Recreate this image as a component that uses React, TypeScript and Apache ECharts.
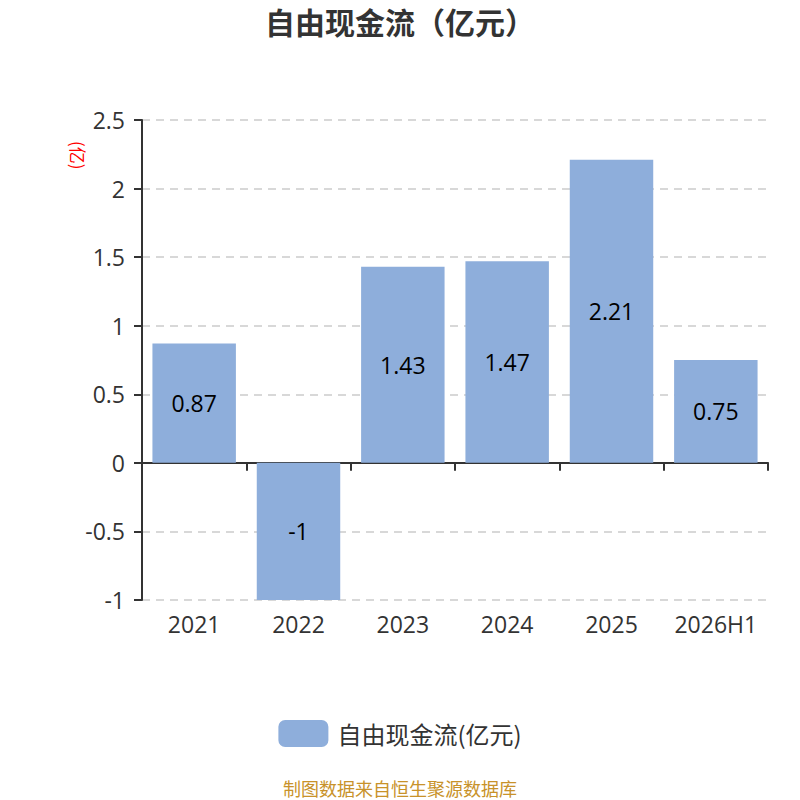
import React, { useEffect, useRef } from "react";
import * as echarts from "echarts";

const categories = ["2021", "2022", "2023", "2024", "2025", "2026H1"];
const values = [0.87, -1, 1.43, 1.47, 2.21, 0.75];
const titleText = "自由现金流（亿元）";
const seriesName = "自由现金流(亿元)";
const unitText = "(亿)";
const sourceText = "制图数据来自恒生聚源数据库";

const CJK = "'Noto Sans CJK SC', 'Noto Sans', sans-serif";
const NUM = "'Open Sans', 'Noto Sans CJK SC', sans-serif";

export default function App() {
  const ref = useRef<HTMLDivElement>(null);
  useEffect(() => {
    if (!ref.current) return;
    const chart = echarts.init(ref.current, undefined, { renderer: "svg" });
    chart.setOption({
      animation: false,
      textStyle: { fontFamily: CJK },
      title: {
        text: titleText,
        left: "center",
        top: 1,
        textStyle: { fontSize: 30, fontWeight: "bold", color: "#333", fontFamily: CJK },
      },
      legend: {
        top: 715,
        left: "center",
        itemWidth: 50,
        itemHeight: 27,
        itemGap: 10,
        textStyle: { fontSize: 24, color: "#333", fontFamily: CJK, padding: [0, 0, 0, 4] },
        data: [{ name: seriesName, icon: "roundRect" }],
      },
      grid: { left: 142, right: 32, top: 120, bottom: 200 },
      graphic: [
        {
          type: "text",
          x: 87,
          y: 141,
          rotation: -Math.PI / 2,
          style: { text: unitText, fill: "#ff0000", fontSize: 17, fontFamily: CJK },
        },
        {
          type: "text",
          left: "center",
          top: 779,
          style: { text: sourceText, fill: "#c8922a", fontSize: 18, fontFamily: CJK },
        },
      ],
      xAxis: [
        {
          type: "category",
          data: categories,
          position: "bottom",
          axisLine: { onZero: true, lineStyle: { color: "#333", width: 2 } },
          axisTick: { show: true, length: 8, lineStyle: { color: "#333", width: 2 } },
          axisLabel: { show: false },
        },
        {
          type: "category",
          data: categories,
          position: "bottom",
          axisLine: { show: false, onZero: false },
          axisTick: { show: false },
          axisLabel: {
            show: true,
            interval: 0,
            fontSize: 23,
            color: "#333",
            margin: 12,
            fontFamily: NUM,
          },
        },
      ],
      yAxis: {
        type: "value",
        min: -1,
        max: 2.5,
        interval: 0.5,
        axisLine: { show: true, lineStyle: { color: "#333", width: 2 } },
        axisTick: { show: true, length: 8, lineStyle: { color: "#333", width: 2 } },
        axisLabel: { fontSize: 23, color: "#333", margin: 17, fontFamily: NUM },
        splitLine: { show: true, lineStyle: { color: "#ccc", type: [8, 6], width: 1.5 } },
      },
      series: [
        {
          name: seriesName,
          type: "bar",
          xAxisIndex: 0,
          data: values,
          barWidth: "80%",
          itemStyle: { color: "#8eaedb" },
          label: {
            show: true,
            position: "inside",
            fontSize: 23,
            color: "#000",
            fontFamily: NUM,
          },
        },
      ],
    });
    return () => chart.dispose();
  }, []);
  return (
    <div
      ref={ref}
      style={{ position: "absolute", left: 0, top: 0, width: 800, height: 800 }}
    />
  );
}
